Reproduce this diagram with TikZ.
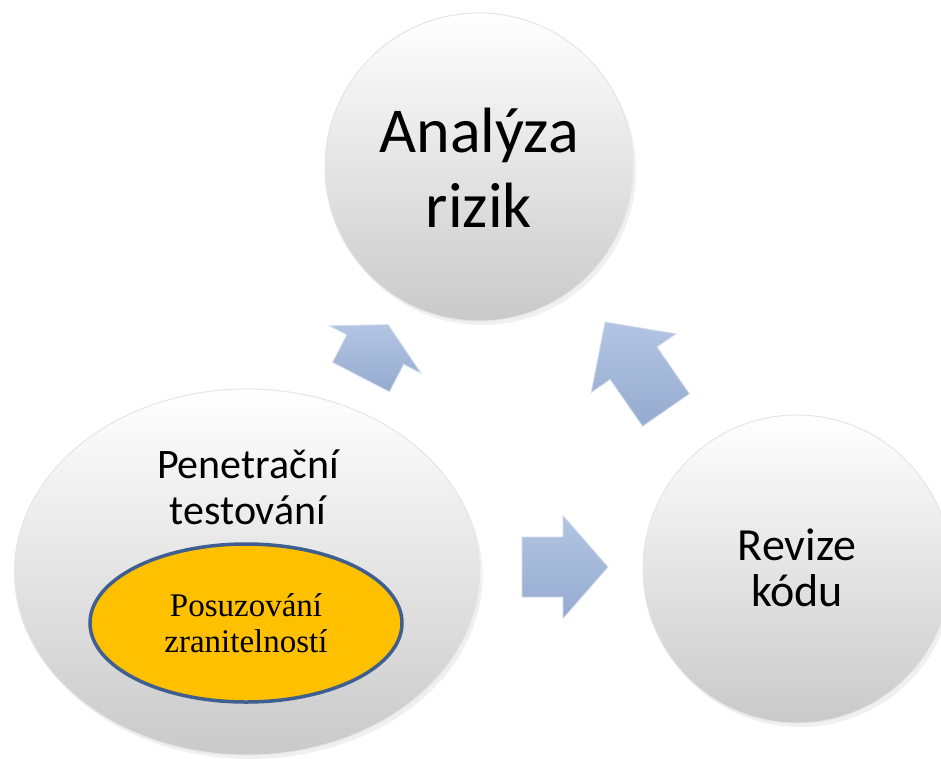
\documentclass[tikz,border=0pt]{standalone}
\usepackage{fontspec}
\setmainfont{Carlito}
\newfontfamily\timesfont{Liberation Serif}
\usetikzlibrary{shapes.geometric,shadows}

\definecolor{arrowlight}{HTML}{B3C5E3}
\definecolor{arrowdark}{HTML}{95AACF}
\definecolor{rimblue}{HTML}{3E5F8F}
\definecolor{vulnyellow}{HTML}{FFC000}

\tikzset{
  bubble/.style={inner sep=0pt, draw=gray!20, line width=1pt,
    top color=white, bottom color=gray!42,
    drop shadow={opacity=0.12, shadow xshift=3pt, shadow yshift=-4pt}},
  blockarrow/.style={draw=arrowlight!60, line width=0.8pt, line join=miter,
    top color=arrowlight, bottom color=arrowdark}
}

% block arrow: tail at (0,0), pointing along +x
% #1 shaft length, #2 shaft width, #3 head length, #4 head width
\newcommand{\blockarrow}[4]{%
  \path[blockarrow] (0,-#2/2) -- (#1,-#2/2) -- (#1,-#4/2) -- (#1+#3,0)
    -- (#1,#4/2) -- (#1,#2/2) -- (0,#2/2) -- cycle;}

\begin{document}
\begin{tikzpicture}[x=1pt,y=-1pt]
\useasboundingbox (0,0) rectangle (941,758);
% the three stages
\node[bubble, circle, minimum size=308] (risk) at (479,167) {};
\node[bubble, ellipse, minimum width=465, minimum height=366] (pen) at (247,572) {};
\node[bubble, circle, minimum size=308] (review) at (797,569) {};
% labels of the stages
\node[align=center, font=\fontsize{64}{75}\selectfont] (riskLbl) at (479,168) {Analýza\\rizik};
\node[align=center, font=\fontsize{42}{46}\selectfont] (penLbl) at (248,487) {Penetrační\\testování};
\node[align=center, font=\fontsize{46}{46}\selectfont] (reviewLbl) at (797,568) {Revize\\kódu};
% inner part of the penetration test
\node[ellipse, fill=vulnyellow, draw=rimblue, line width=3.5pt, inner sep=0pt,
      minimum width=312, minimum height=158,
      align=center, font=\timesfont\fontsize{33}{36}\selectfont] (vuln) at (246,623)
      {Posuzování\\zranitelností};
% block arrows between the stages
\begin{scope}[shift={(361,377)}, rotate=62.6]
  \blockarrow{31}{64}{28}{103}
\end{scope}
\begin{scope}[shift={(522,567)}]
  \blockarrow{41}{60}{45}{103}
\end{scope}
\begin{scope}[shift={(666,410)}, rotate=124.7]
  \blockarrow{57}{57}{50}{103}
\end{scope}
\end{tikzpicture}
\end{document}
